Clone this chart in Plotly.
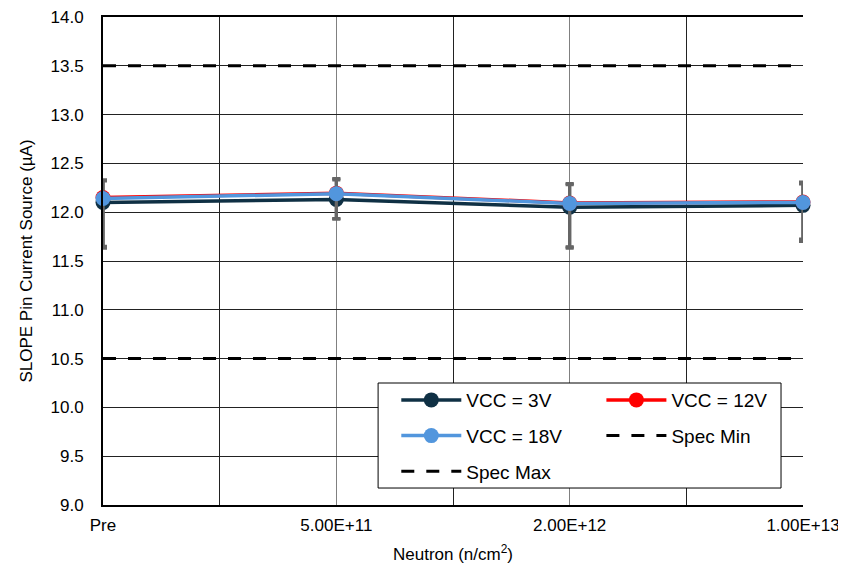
import plotly.graph_objects as go

categories = ["Pre", "5.00E+11", "2.00E+12", "1.00E+13"]
cat_pos = [0, 1, 2, 3]

vcc3 = [12.10, 12.13, 12.05, 12.07]
vcc3_plus = [0.22, 0.21, 0.24, 0.24]
vcc3_minus = [0.47, 0.20, 0.42, 0.36]

vcc12 = [12.150, 12.195, 12.095, 12.105]
vcc12_plus = [0.18, 0.15, 0.20, 0.20]
vcc12_minus = [0.50, 0.26, 0.45, 0.38]

vcc18 = [12.14, 12.19, 12.09, 12.10]
vcc18_plus = [0.19, 0.14, 0.19, 0.19]
vcc18_minus = [0.50, 0.26, 0.45, 0.40]

spec_min = [10.5, 10.5, 10.5, 10.5]
spec_max = [13.5, 13.5, 13.5, 13.5]

y_ticks = [9.0, 9.5, 10.0, 10.5, 11.0, 11.5, 12.0, 12.5, 13.0, 13.5, 14.0]
minor_grid = [0.5, 1.5, 2.5]

FONT = "Liberation Sans, Arial, sans-serif"
ERR_COLOR = "#666666"

fig = go.Figure()


def series(name, y, plus, minus, color, legend):
    fig.add_trace(go.Scatter(
        x=cat_pos, y=y, name=name, mode="lines+markers",
        line=dict(color=color, width=3.5),
        marker=dict(color=color, size=15),
        cliponaxis=False, legend=legend, legendgroup=name,
        error_y=dict(type="data", symmetric=False, array=plus, arrayminus=minus,
                     color=ERR_COLOR, thickness=3, width=4),
    ))


series("VCC = 3V", vcc3, vcc3_plus, vcc3_minus, "#0f3044", "legend")
series("VCC = 12V", vcc12, vcc12_plus, vcc12_minus, "#ff0000", "legend2")
series("VCC = 18V", vcc18, vcc18_plus, vcc18_minus, "#5296dd", "legend")

fig.add_trace(go.Scatter(x=cat_pos, y=spec_min, name="Spec Min", mode="lines",
                         legend="legend2", legendgroup="Spec Min",
                         line=dict(color="black", width=3, dash="13px,12px")))
fig.add_trace(go.Scatter(x=cat_pos, y=spec_max, name="Spec Max", mode="lines",
                         legend="legend", legendgroup="Spec Max",
                         line=dict(color="black", width=3, dash="13px,12px")))

leg_common = dict(
    orientation="v", xanchor="left", yanchor="top", itemwidth=60,
    bgcolor="rgba(0,0,0,0)", borderwidth=0, font=dict(size=19),
    traceorder="grouped", tracegroupgap=8,
)

fig.update_layout(
    width=838, height=564,
    margin=dict(l=95, r=43, t=9, b=67),
    paper_bgcolor="white", plot_bgcolor="white",
    font=dict(family=FONT, size=17, color="black"),
    showlegend=True,
    legend=dict(x=0.419, y=0.254, **leg_common),
    legend2=dict(x=0.712, y=0.254, **leg_common),
    shapes=[dict(type="rect", xref="paper", yref="paper",
                 x0=0.393, x1=0.9686, y0=0.0348, y1=0.25,
                 line=dict(color="black", width=1), fillcolor="white",
                 layer="above")],
    xaxis=dict(
        range=[0, 3], tickmode="array", tickvals=cat_pos, ticktext=categories,
        showgrid=True, gridcolor="#808080", gridwidth=1,
        minor=dict(tickmode="array", tickvals=minor_grid, showgrid=True,
                   gridcolor="#222222", gridwidth=1, ticks=""),
        showline=True, linecolor="black", linewidth=2, mirror=True,
        ticks="outside", ticklen=4, tickcolor="rgba(0,0,0,0)",
        zeroline=False, automargin=False, ticklabeloverflow="allow",
        title=dict(text="Neutron (n/cm<sup>2</sup>)", font=dict(size=17), standoff=14),
    ),
    yaxis=dict(
        range=[9, 14], tickmode="array", tickvals=y_ticks, tickformat=".1f",
        showgrid=True, gridcolor="#222222", gridwidth=1,
        showline=True, linecolor="black", linewidth=2, mirror=False,
        ticks="outside", ticklen=14, tickcolor="rgba(0,0,0,0)",
        zeroline=False, automargin=False, ticklabeloverflow="allow",
        title=dict(text="SLOPE Pin Current Source (µA)", font=dict(size=17), standoff=14),
    ),
)

fig.write_html("out.html")
